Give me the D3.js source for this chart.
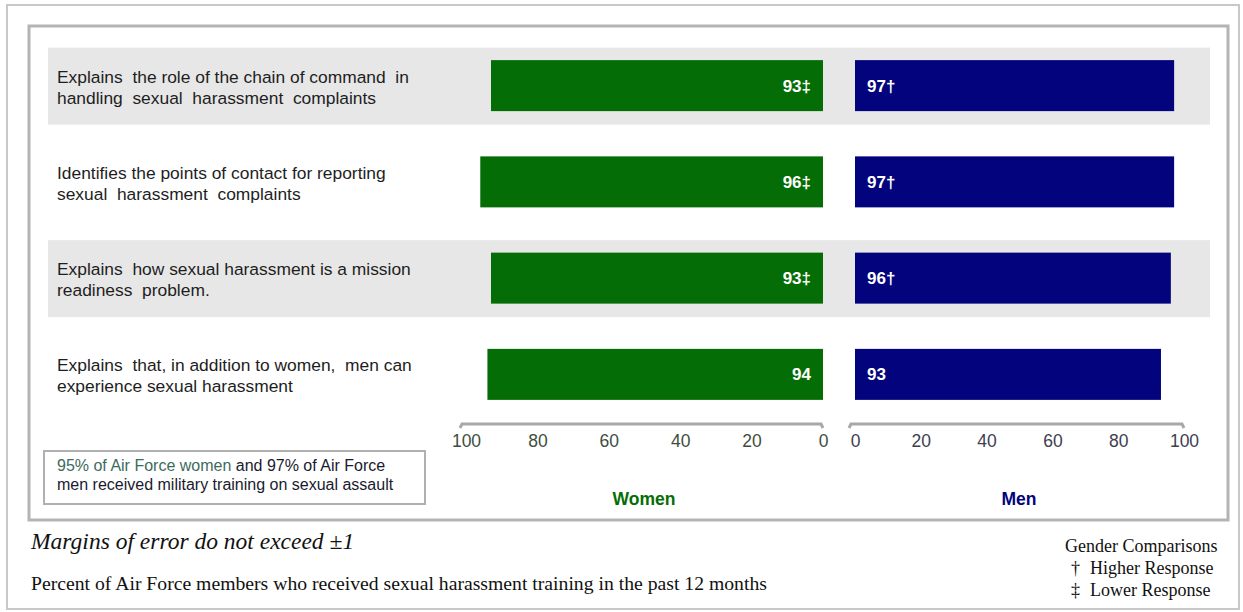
<!DOCTYPE html>
<html><head><meta charset="utf-8">
<script src="https://cdn.jsdelivr.net/npm/d3@7"></script>
<style>body{margin:0;background:#fff}svg{display:block}text{white-space:pre}</style>
</head><body>
<svg id="c" width="1243" height="612"></svg>
<script>
const categories = [
  ["Explains  the role of the chain of command  in", "handling  sexual  harassment  complaints"],
  ["Identifies the points of contact for reporting", "sexual  harassment  complaints"],
  ["Explains  how sexual harassment is a mission", "readiness  problem."],
  ["Explains  that, in addition to women,  men can", "experience sexual harassment"]
];
const women = [93, 96, 93, 94];
const men = [97, 97, 96, 93];
const womenMarks = ["‡", "‡", "‡", ""];
const menMarks = ["†", "†", "†", ""];
const tickValues = [0, 20, 40, 60, 80, 100];
const shaded = [true, false, true, false];

const svg = d3.select("#c");
const green = "#056d05", navy = "#03037d";
const sans = "Arial, 'Liberation Sans', sans-serif";
const serif = "'Liberation Serif', 'DejaVu Serif', serif";

svg.append("rect").attr("x",7).attr("y",5).attr("width",1232).attr("height",604)
  .attr("fill","none").attr("stroke","#c8c8c8").attr("stroke-width",2);
svg.append("rect").attr("x",29).attr("y",26).attr("width",1199).attr("height",494)
  .attr("fill","#fff").attr("stroke","#b4b4b4").attr("stroke-width",3);

const y = d3.scaleBand().domain(d3.range(categories.length)).range([37, 422]);
const xW = d3.scaleLinear().domain([100, 0]).range([466, 823]);
const xM = d3.scaleLinear().domain([0, 100]).range([855, 1184]);
const barH = 51;

categories.forEach((c, i) => {
  if (shaded[i]) {
    const cy = y(i) + y.bandwidth()/2 + 0.5;
    svg.append("rect").attr("x",48).attr("y",cy-38).attr("width",1162).attr("height",77)
      .attr("fill","#e7e7e7");
  }
});

const g = svg.append("g");
categories.forEach((c, i) => {
  const cy = y(i) + y.bandwidth()/2 + 0.5;
  const t = g.append("text").attr("font-family",sans).attr("font-size",17.4).attr("fill","#1e1e1e");
  t.append("tspan").attr("x",57).attr("y",cy-3).text(c[0]);
  t.append("tspan").attr("x",57).attr("y",cy+18).text(c[1]);
  g.append("rect").attr("x",xW(women[i])).attr("y",cy-barH/2).attr("width",xW(0)-xW(women[i])).attr("height",barH)
    .attr("fill",green);
  g.append("text").attr("x",xW(0)-12).attr("y",cy+6).attr("text-anchor","end")
    .attr("font-family",sans).attr("font-weight","bold").attr("font-size",17)
    .attr("fill","#fff").text(women[i] + womenMarks[i]);
  g.append("rect").attr("x",xM(0)).attr("y",cy-barH/2).attr("width",xM(men[i])-xM(0)).attr("height",barH)
    .attr("fill",navy);
  g.append("text").attr("x",xM(0)+12).attr("y",cy+6).attr("text-anchor","start")
    .attr("font-family",sans).attr("font-weight","bold").attr("font-size",17)
    .attr("fill","#fff").text(men[i] + menMarks[i]);
});

function drawAxis(scale, color) {
  const ax = svg.append("g").attr("transform","translate(0,424)");
  ax.call(d3.axisBottom(scale).tickValues(tickValues).tickSize(0).tickPadding(11));
  ax.select(".domain").remove();
  const r = scale.range();
  const x0 = Math.min(r[0], r[1]) - 6, x1 = Math.max(r[0], r[1]);
  ax.append("path").attr("d",`M${x0},4L${x0+2},0L${x1-2},0L${x1},4`)
    .attr("fill","none").attr("stroke","#a8a8a8").attr("stroke-width",3);
  ax.selectAll(".tick text").attr("font-family",sans).attr("font-size",17.5).attr("fill",color);
}
drawAxis(xW, "#3e4e3e");
drawAxis(xM, "#3e3e50");

svg.append("text").attr("x",644).attr("y",505).attr("text-anchor","middle")
  .attr("font-family",sans).attr("font-weight","bold").attr("font-size",17.5)
  .attr("fill",green).text("Women");
svg.append("text").attr("x",1019).attr("y",505).attr("text-anchor","middle")
  .attr("font-family",sans).attr("font-weight","bold").attr("font-size",17.5)
  .attr("fill",navy).text("Men");

svg.append("rect").attr("x",44).attr("y",451).attr("width",381).attr("height",53)
  .attr("fill","#fff").attr("stroke","#b0b0b0").attr("stroke-width",2);
const nt = svg.append("text").attr("font-family",sans).attr("font-size",16);
const l1 = nt.append("tspan").attr("x",57).attr("y",471);
l1.append("tspan").attr("fill","#3d6b60").text("95% of Air Force women");
l1.append("tspan").attr("fill","#1a1a2e").text(" and 97% of Air Force");
nt.append("tspan").attr("x",57).attr("y",490).attr("fill","#1a1a2e").text("men received military training on sexual assault");

svg.append("text").attr("x",31).attr("y",549).attr("font-family",serif)
  .attr("font-style","italic").attr("font-size",23.5).attr("fill","#111").text("Margins of error do not exceed ±1");
svg.append("text").attr("x",31).attr("y",590).attr("font-family",serif)
  .attr("font-size",19.7).attr("fill","#111").text("Percent of Air Force members who received sexual harassment training in the past 12 months");

const lg = svg.append("g").attr("font-family",serif).attr("font-size",18).attr("fill","#111");
lg.append("text").attr("x",1065).attr("y",552).text("Gender Comparisons");
lg.append("text").attr("x",1071).attr("y",574).text("†");
lg.append("text").attr("x",1090).attr("y",574).text("Higher Response");
lg.append("text").attr("x",1071).attr("y",596).text("‡");
lg.append("text").attr("x",1090).attr("y",596).text("Lower Response");
</script>
</body></html>
